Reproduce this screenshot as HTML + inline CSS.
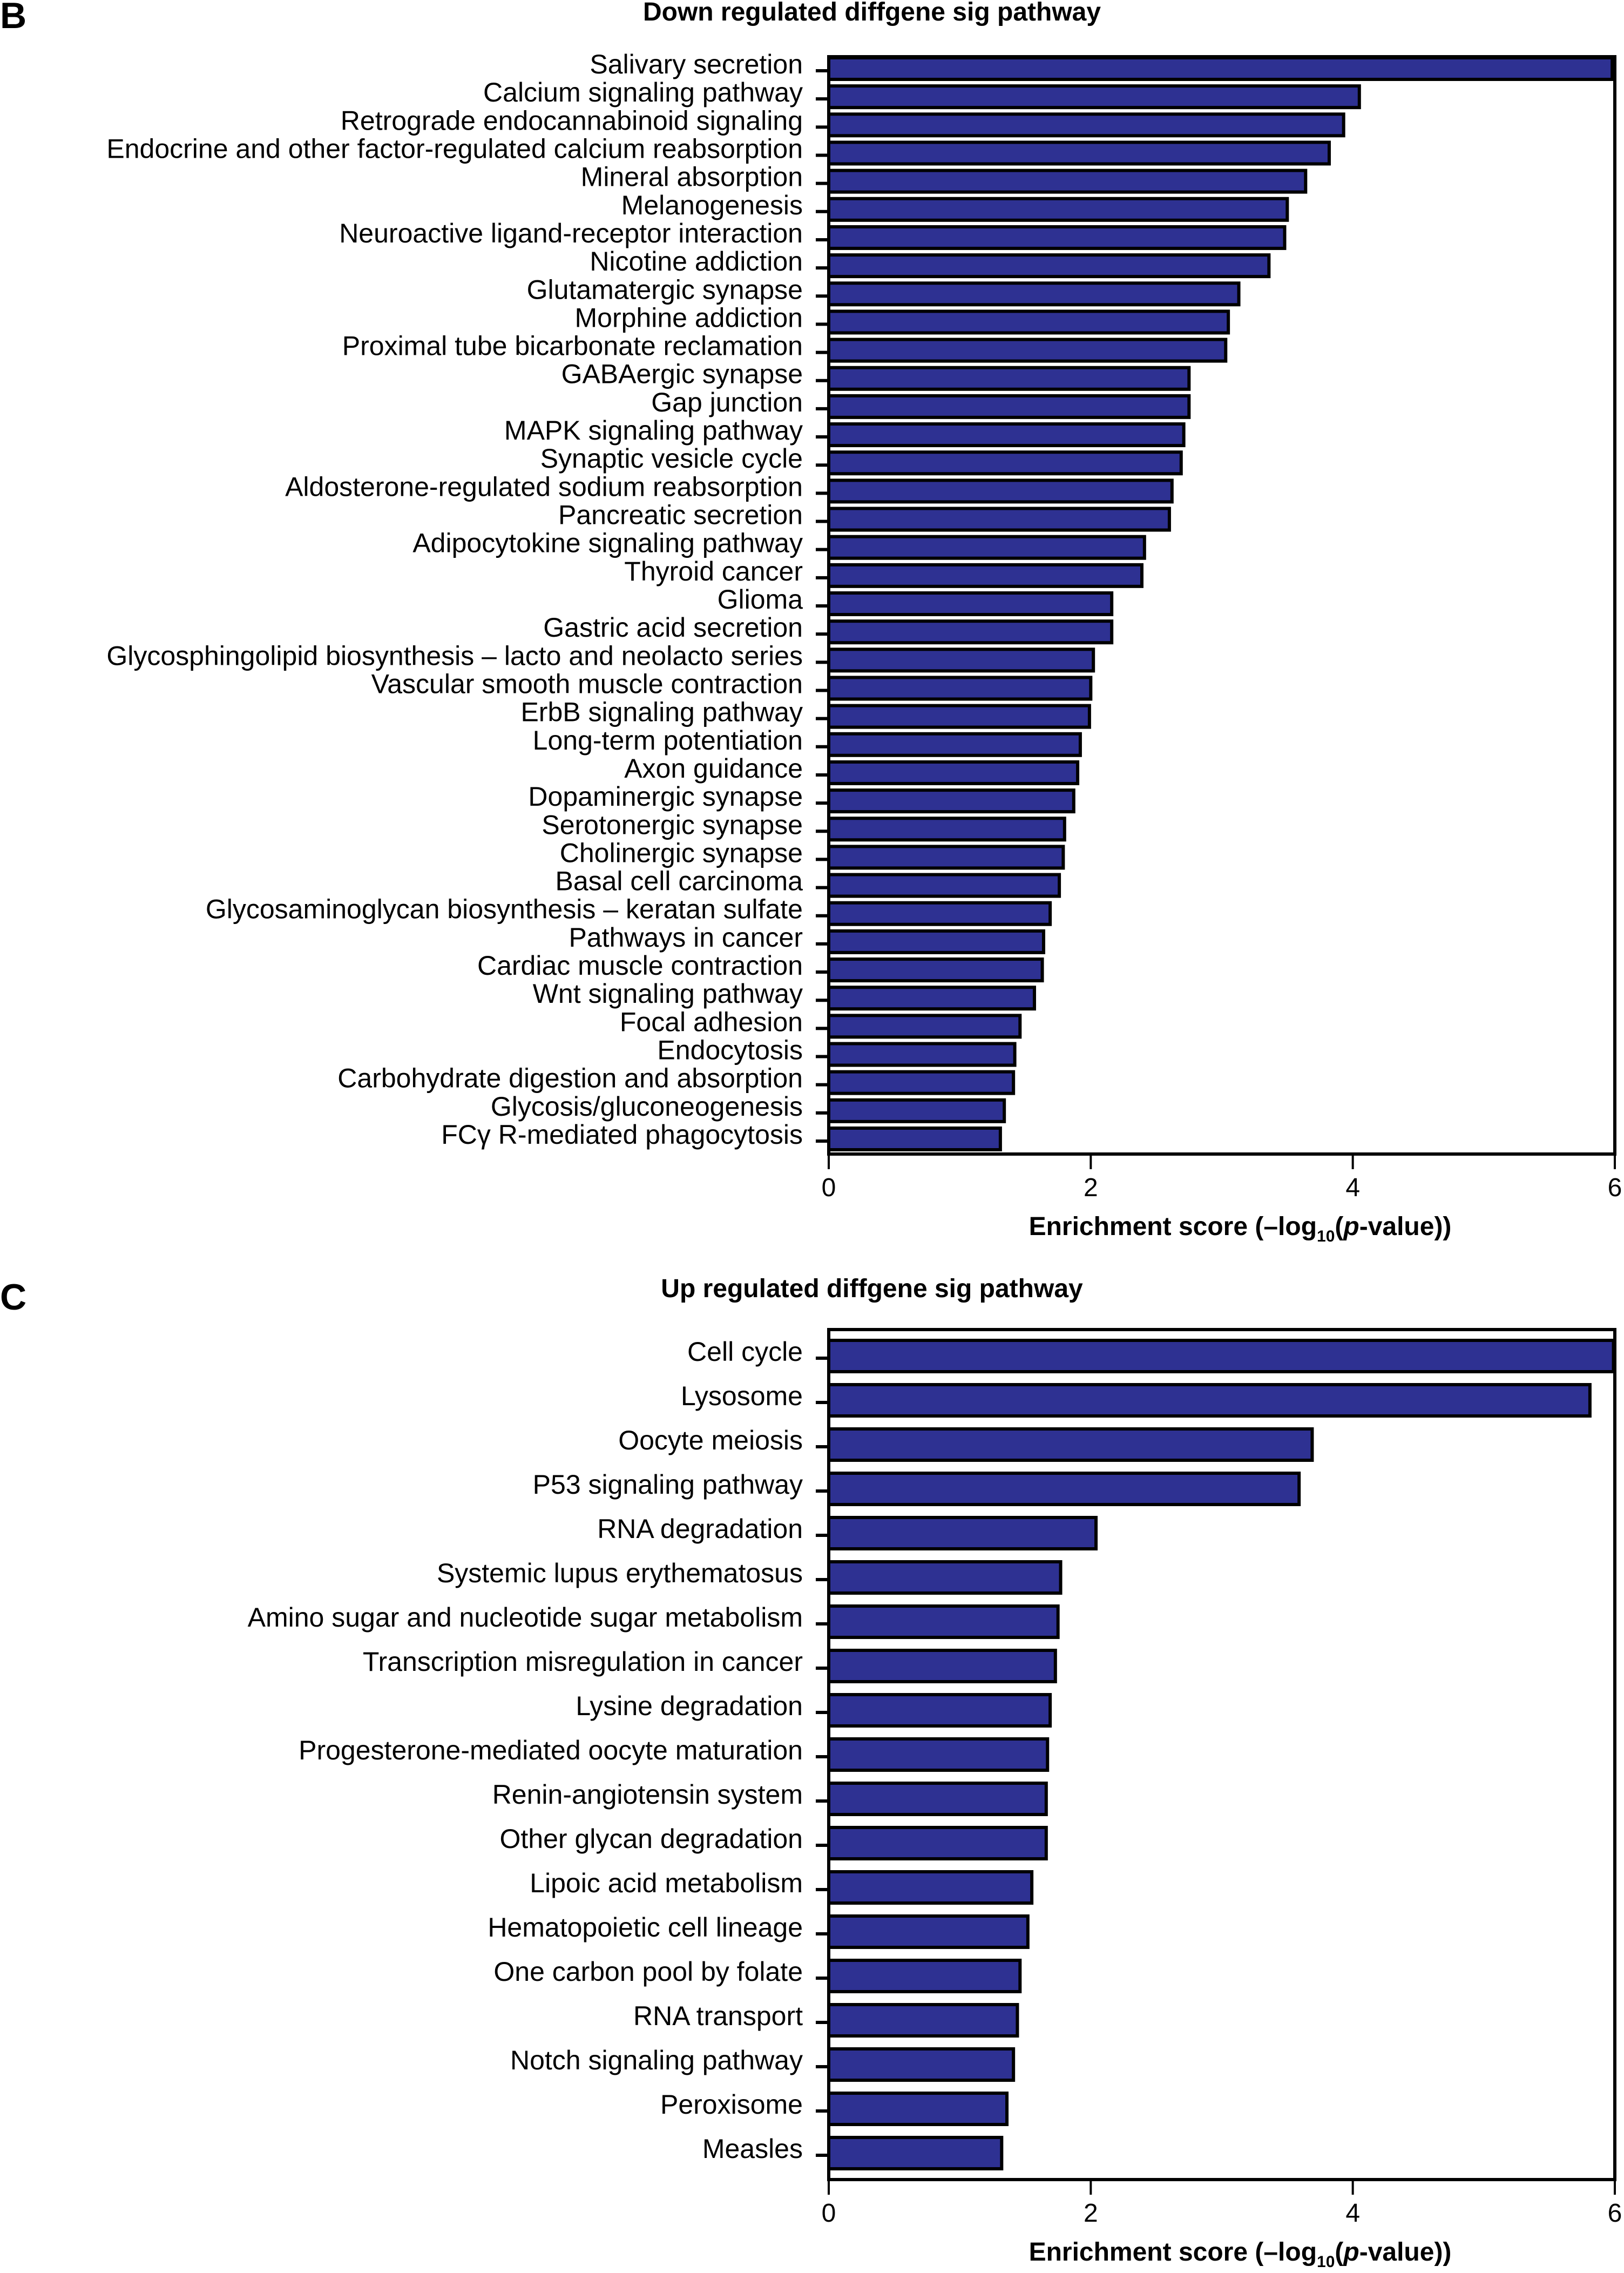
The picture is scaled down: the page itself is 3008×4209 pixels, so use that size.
<!DOCTYPE html>
<html><head><meta charset="utf-8"><style>
html,body{margin:0;padding:0;background:#fff;}
svg{display:block;font-family:"Liberation Sans",sans-serif;}
</style></head><body>
<svg id="chart" width="3008" height="4209" viewBox="0 0 3008 4209" xmlns="http://www.w3.org/2000/svg">
<text x="0" y="52" font-size="68" font-weight="bold">B</text>
<text x="1615" y="38" font-size="48" font-weight="bold" text-anchor="middle">Down regulated diffgene sig pathway</text>
<text x="0" y="2425" font-size="68" font-weight="bold">C</text>
<text x="1615" y="2402" font-size="48" font-weight="bold" text-anchor="middle">Up regulated diffgene sig pathway</text>
<g id="down"></g>
<g id="up"></g>
</svg>
<script>
const downCategories = ["Salivary secretion","Calcium signaling pathway","Retrograde endocannabinoid signaling","Endocrine and other factor-regulated calcium reabsorption","Mineral absorption","Melanogenesis","Neuroactive ligand-receptor interaction","Nicotine addiction","Glutamatergic synapse","Morphine addiction","Proximal tube bicarbonate reclamation","GABAergic synapse","Gap junction","MAPK signaling pathway","Synaptic vesicle cycle","Aldosterone-regulated sodium reabsorption","Pancreatic secretion","Adipocytokine signaling pathway","Thyroid cancer","Glioma","Gastric acid secretion","Glycosphingolipid biosynthesis \u2013 lacto and neolacto series","Vascular smooth muscle contraction","ErbB signaling pathway","Long-term potentiation","Axon guidance","Dopaminergic synapse","Serotonergic synapse","Cholinergic synapse","Basal cell carcinoma","Glycosaminoglycan biosynthesis \u2013 keratan sulfate","Pathways in cancer","Cardiac muscle contraction","Wnt signaling pathway","Focal adhesion","Endocytosis","Carbohydrate digestion and absorption","Glycosis/gluconeogenesis","FC\u03b3 R-mediated phagocytosis"];
const downValues = [5.98,4.05,3.93,3.82,3.64,3.50,3.48,3.36,3.13,3.05,3.03,2.75,2.75,2.71,2.69,2.62,2.60,2.41,2.39,2.16,2.16,2.02,2.00,1.99,1.92,1.90,1.87,1.80,1.79,1.76,1.69,1.64,1.63,1.57,1.46,1.42,1.41,1.34,1.31];
const upCategories = ["Cell cycle","Lysosome","Oocyte meiosis","P53 signaling pathway","RNA degradation","Systemic lupus erythematosus","Amino sugar and nucleotide sugar metabolism","Transcription misregulation in cancer","Lysine degradation","Progesterone-mediated oocyte maturation","Renin-angiotensin system","Other glycan degradation","Lipoic acid metabolism","Hematopoietic cell lineage","One carbon pool by folate","RNA transport","Notch signaling pathway","Peroxisome","Measles"];
const upValues = [5.99,5.81,3.69,3.59,2.04,1.77,1.75,1.73,1.69,1.67,1.66,1.66,1.55,1.52,1.46,1.44,1.41,1.36,1.32];
const xTicks = [0,2,4,6];
const NS="http://www.w3.org/2000/svg";
function mk(parent,tag,attrs){const e=document.createElementNS(NS,tag);for(const k in attrs)e.setAttribute(k,attrs[k]);parent.appendChild(e);return e;}
function draw(gid,cats,vals,top,bottom,firstC,lastC,barH,prefix){
  const g=document.getElementById(gid);
  const x0=1535,x1=2991;
  const xs=v=>x0+(x1-x0)*v/6;
  const n=cats.length;
  const ys=i=>firstC+(lastC-firstC)*i/(n-1);
  cats.forEach((c,i)=>{
    const y=ys(i);
    const r=mk(g,'rect',{x:x0,y:y-barH/2,width:xs(vals[i])-x0,height:barH,fill:'#2e3192',stroke:'#000','stroke-width':6});
    
    
    const tk=mk(g,'line',{x1:x0-24,x2:x0,y1:y+4,y2:y+4,stroke:'#000','stroke-width':6});
    
    
    const t=mk(g,'text',{x:1487,y:y+9,'font-size':50,'text-anchor':'end'});
    t.textContent=c;
    
    
  });
  const f=mk(g,'rect',{x:x0,y:top,width:x1-x0,height:bottom-top,fill:'none',stroke:'#000','stroke-width':6});
  
  
  xTicks.forEach(v=>{
    const l=mk(g,'line',{x1:xs(v),x2:xs(v),y1:bottom,y2:bottom+28,stroke:'#000','stroke-width':4});
    
    
    const t=mk(g,'text',{x:xs(v),y:bottom+78,'font-size':48,'text-anchor':'middle'});
    t.textContent=v;
    
    
  });
  const at=mk(g,'text',{x:2297,y:bottom+150,'font-size':48,'font-weight':'bold','text-anchor':'middle'});
  at.innerHTML='Enrichment score (\u2013log<tspan font-size="30" dy="12">10</tspan><tspan dy="-12">(</tspan><tspan font-style="italic">p</tspan>-value))';
  
  
}
draw('down',downCategories,downValues,105,2137,127,2109,40,'down');
draw('up',upCategories,upValues,2462,4036,2511,3987,58,'up');
</script>
</body></html>
